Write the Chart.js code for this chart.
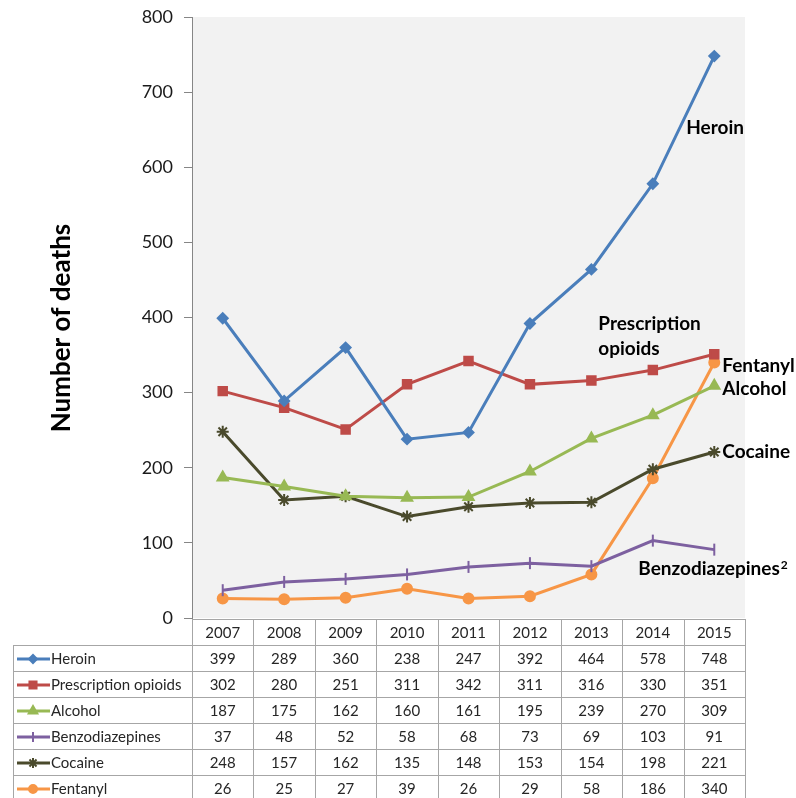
<!DOCTYPE html>
<html>
<head>
<meta charset="utf-8">
<script src="https://cdn.jsdelivr.net/npm/chart.js@4.4.0/dist/chart.umd.min.js"></script>
<style>
  html, body { margin: 0; padding: 0; background: #fff; }
  #wrap { width: 796px; height: 798px; }
</style>
</head>
<body>
<div id="wrap"><canvas id="deaths"></canvas></div>
<script>
// years along the x axis
const years = ['2007', '2008', '2009', '2010', '2011', '2012', '2013', '2014', '2015'];

// deaths per series
const heroin = [399, 289, 360, 238, 247, 392, 464, 578, 748];
const rxOpioids = [302, 280, 251, 311, 342, 311, 316, 330, 351];
const alcohol = [187, 175, 162, 160, 161, 195, 239, 270, 309];
const benzos = [37, 48, 52, 58, 68, 73, 69, 103, 91];
const cocaine = [248, 157, 162, 135, 148, 153, 154, 198, 221];
const fentanyl = [26, 25, 27, 39, 26, 29, 58, 186, 340];

const yTicks = [0, 100, 200, 300, 400, 500, 600, 700, 800];

const FONT = 'Lato, "Open Sans", sans-serif';

const series = [
  { label: 'Heroin', data: heroin, color: '#4a7ebb', style: 'rectRot', radius: 5 },
  { label: 'Prescription opioids', data: rxOpioids, color: '#be4b48', style: 'rect', radius: 6 },
  { label: 'Alcohol', data: alcohol, color: '#98b954', style: 'triangle', radius: 6 },
  { label: 'Benzodiazepines', data: benzos, color: '#7d60a0', style: 'line', radius: 6, rotation: 90 },
  { label: 'Cocaine', data: cocaine, color: '#4a4a2c', style: 'star', radius: 6 },
  { label: 'Fentanyl', data: fentanyl, color: '#f79646', style: 'circle', radius: 5 },
];

// grey plot background
const plotBg = {
  id: 'plotBg',
  beforeDraw(chart) {
    const { ctx, chartArea: a } = chart;
    ctx.save();
    ctx.fillStyle = '#f2f2f2';
    ctx.fillRect(a.left, a.top, a.right - a.left, a.bottom - a.top);
    ctx.restore();
  }
};

// data table under the chart, columns follow the x scale
const dataTable = {
  id: 'dataTable',
  afterDraw(chart) {
    const { ctx, chartArea: a } = chart;
    const x = chart.scales.x;
    const colW = (a.right - a.left) / years.length;
    const tableLeft = 13;
    const headTop = a.bottom + 1;
    const rowH = 26;
    const bodyTop = headTop + 26;

    ctx.save();
    ctx.strokeStyle = '#a6a6a6';
    ctx.lineWidth = 1;
    // header row
    ctx.strokeRect(a.left + 0.5, headTop + 0.5, a.right - a.left, 26);
    // body rows
    for (let r = 0; r < series.length; r++) {
      ctx.strokeRect(tableLeft + 0.5, bodyTop + r * rowH + 0.5, a.right - tableLeft, rowH);
    }
    // column lines
    for (let c = 0; c <= years.length; c++) {
      const cx = Math.round(a.left + c * colW) + 0.5;
      ctx.beginPath();
      ctx.moveTo(cx, headTop);
      ctx.lineTo(cx, bodyTop + series.length * rowH);
      ctx.stroke();
    }

    ctx.font = '15px ' + FONT;
    ctx.fillStyle = '#262626';
    ctx.textAlign = 'center';
    ctx.textBaseline = 'middle';
    years.forEach((y, i) => ctx.fillText(y, x.getPixelForValue(i), headTop + 14));

    series.forEach((s, r) => {
      const cy = bodyTop + r * rowH + rowH / 2 + 1;
      s.data.forEach((v, i) => {
        ctx.fillStyle = '#262626';
        ctx.fillText(String(v), x.getPixelForValue(i), cy);
      });
      // legend key
      ctx.strokeStyle = s.color;
      ctx.lineWidth = 3;
      ctx.beginPath();
      ctx.moveTo(17, cy);
      ctx.lineTo(50, cy);
      ctx.stroke();
      ctx.fillStyle = s.color;
      ctx.lineWidth = 2;
      Chart.helpers.drawPoint(ctx, {
        pointStyle: s.style, radius: s.radius - 1, rotation: s.rotation || 0, borderWidth: 2
      }, 33, cy);
      ctx.fillStyle = '#262626';
      ctx.textAlign = 'left';
      ctx.fillText(s.label, 51, cy);
      ctx.textAlign = 'center';
      ctx.strokeStyle = '#a6a6a6';
      ctx.lineWidth = 1;
    });

    // axis title
    ctx.save();
    ctx.translate(62, 328);
    ctx.rotate(-Math.PI / 2);
    ctx.font = 'bold 26px ' + FONT;
    ctx.fillStyle = '#000';
    ctx.textAlign = 'center';
    ctx.fillText('Number of deaths', 0, 0);
    ctx.restore();

    // series labels next to the lines
    const y = chart.scales.y;
    ctx.font = 'bold 19px ' + FONT;
    ctx.fillStyle = '#000';
    ctx.textAlign = 'left';
    const px = i => x.getPixelForValue(i);
    ctx.fillText('Heroin', px(8) - 28, y.getPixelForValue(652));
    ctx.fillText('Prescription', px(8) - 116, y.getPixelForValue(392));
    ctx.fillText('opioids', px(8) - 116, y.getPixelForValue(358));
    ctx.fillText('Fentanyl', px(8) + 8, y.getPixelForValue(336));
    ctx.fillText('Alcohol', px(8) + 8, y.getPixelForValue(305));
    ctx.fillText('Cocaine', px(8) + 8, y.getPixelForValue(221));
    ctx.fillText('Benzodiazepines', px(8) - 76, y.getPixelForValue(65));
    const bw = ctx.measureText('Benzodiazepines').width;
    ctx.font = 'bold 12px ' + FONT;
    ctx.fillText('2', px(8) - 76 + bw + 1, y.getPixelForValue(71));
    ctx.restore();
  }
};

new Chart(document.getElementById('deaths'), {
  type: 'line',
  data: {
    labels: years,
    datasets: series.map(s => ({
      label: s.label,
      data: s.data,
      borderColor: s.color,
      backgroundColor: s.color,
      borderWidth: 3,
      pointStyle: s.style,
      pointRadius: s.radius,
      pointRotation: s.rotation || 0,
      pointBorderWidth: 2,
      fill: false,
      tension: 0,
    })),
  },
  options: {
    responsive: true,
    maintainAspectRatio: false,
    animation: false,
    layout: { padding: { left: 0, right: 51, top: 17, bottom: 0 } },
    plugins: {
      legend: { display: false },
      tooltip: { enabled: false },
    },
    scales: {
      x: {
        offset: true,
        grid: { display: false },
        border: { display: false },
        ticks: { display: false },
        afterFit: scale => { scale.height = 180; },
      },
      y: {
        min: 0,
        max: 800,
        afterBuildTicks: scale => { scale.ticks = yTicks.map(v => ({ value: v })); },
        afterFit: scale => {
          scale.width = 192;
          scale.paddingTop = 0;
          scale.paddingBottom = 0;
        },
        grid: { drawOnChartArea: false, tickLength: 8, color: '#868686' },
        border: { display: true, color: '#868686', width: 1 },
        ticks: {
          padding: 11,
          color: '#1a1a1a',
          font: { family: FONT, size: 18 },
        },
      },
    },
  },
  plugins: [plotBg, dataTable],
});
</script>
</body>
</html>
